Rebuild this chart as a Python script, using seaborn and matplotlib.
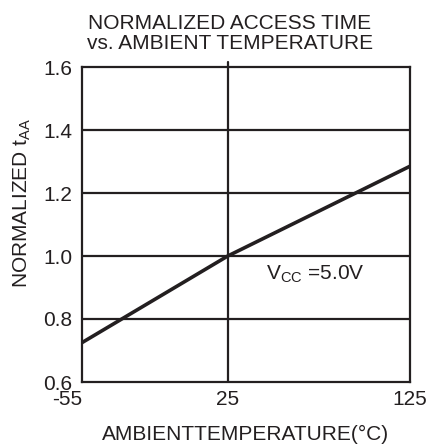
import matplotlib
matplotlib.use("Agg")
import matplotlib.pyplot as plt
import seaborn as sns
import pandas as pd

temperature = [-55, 25, 125]
normalized_taa = [0.725, 1.0, 1.285]
x_ticks = [-55, 25, 125]
y_ticks = [0.6, 0.8, 1.0, 1.2, 1.4, 1.6]

sns.set_style("white")
plt.rcParams['font.family'] = ['Liberation Sans', 'DejaVu Sans']
plt.rcParams['mathtext.fontset'] = 'custom'
plt.rcParams['mathtext.rm'] = 'Liberation Sans'
plt.rcParams['mathtext.it'] = 'Liberation Sans'

ink = "#231f20"
fs = 15

df = pd.DataFrame({"T": temperature, "t": normalized_taa})

fig = plt.figure(figsize=(4.27, 4.45), dpi=100)
ax = fig.add_axes([82/427, 1-382/445, (410-82)/427, (382-67)/445])

sns.lineplot(data=df, x="T", y="t", ax=ax, color=ink, linewidth=2.6)

ax.set_xlim(-55, 125)
ax.set_ylim(0.6, 1.6)
ax.set_xticks(x_ticks)
ax.set_xticklabels([str(v) for v in x_ticks])
ax.set_yticks(y_ticks)
ax.set_yticklabels([f"{v:.1f}" for v in y_ticks])
ax.tick_params(axis='both', length=0, labelsize=fs, colors=ink)
ax.tick_params(axis='y', pad=7)
ax.tick_params(axis='x', pad=6)
xl = ax.get_xticklabels()
xl[0].set_horizontalalignment('right')

for v in y_ticks[1:-1]:
    ax.axhline(v, color=ink, linewidth=1.6, zorder=1)
ax.axvline(25, color=ink, linewidth=1.6, zorder=1)
ax.plot([25, 25], [1.6, 1.615], color=ink, linewidth=1.6, clip_on=False)

for s in ax.spines.values():
    s.set_color(ink)
    s.set_linewidth(1.6)

ax.set_xlabel("AMBIENTTEMPERATURE(°C)", fontsize=fs, color=ink, labelpad=11)
ax.set_ylabel(r"NORMALIZED t$_{\mathrm{AA}}$", fontsize=fs, color=ink)
ax.yaxis.set_label_coords(-0.15, 0.57)

ax.set_title("NORMALIZED ACCESS TIME\nvs. AMBIENT TEMPERATURE", fontsize=fs,
             color=ink, pad=13, linespacing=1.05, x=0.451)

ax.text(46, 0.943, r"V$_{\mathrm{CC}}$ =5.0V", fontsize=fs, color=ink,
        va="center", ha="left")

fig.savefig("out.png", dpi=100)
